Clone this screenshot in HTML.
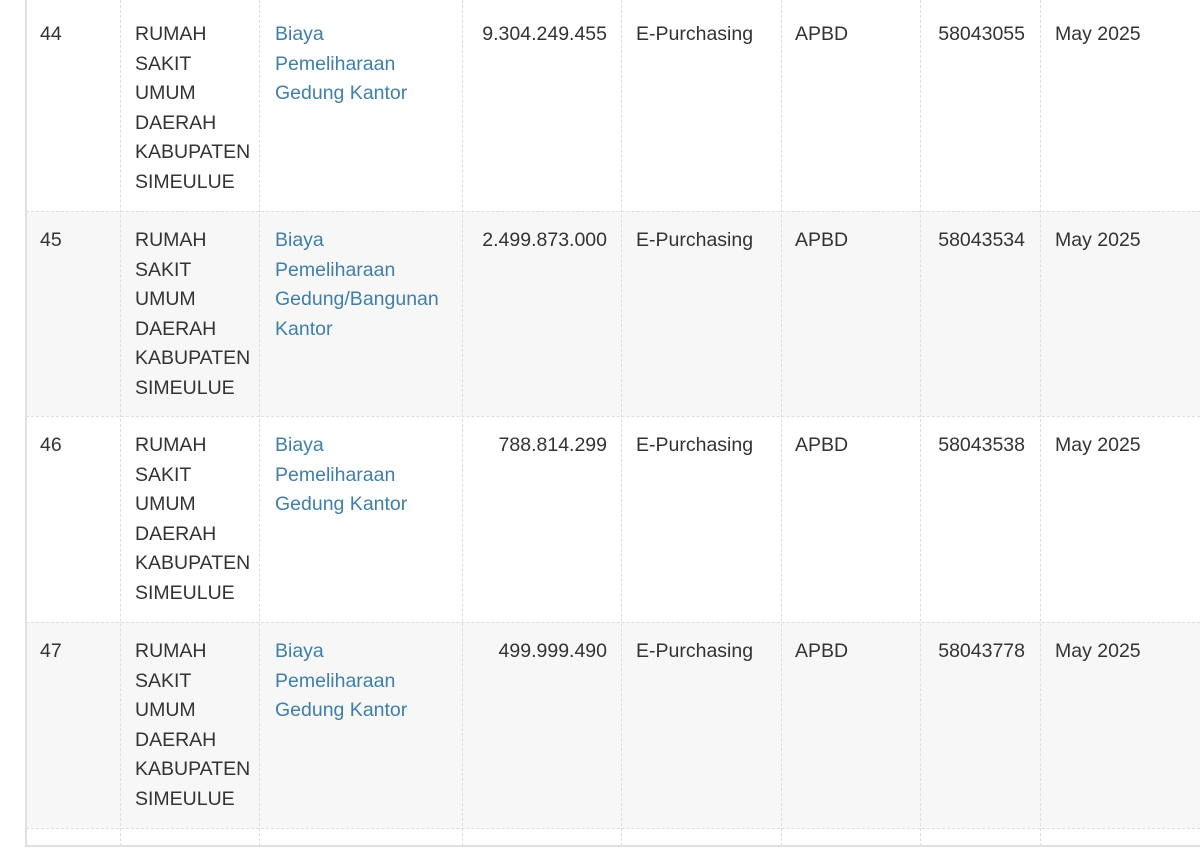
<!DOCTYPE html>
<html><head><meta charset="utf-8"><style>
body{margin:0;width:1200px;height:853px;overflow:hidden;background:#fff;font-family:"Liberation Sans",sans-serif;font-size:19.5px;color:#333;position:relative}
.row{position:absolute;left:26px;width:1174px}
.g{background:#f7f7f7}
.h{position:absolute;left:26px;width:1174px;border-top:1px dashed #ddd;height:0}
.v{position:absolute;top:0;height:846px;border-left:1px dashed #ddd;width:0}
.t{position:absolute;line-height:29.5px;white-space:nowrap}
.a{color:#3f7fa8}
.r{text-align:right}
</style></head><body>
<div class="row g" style="top:211px;height:205px"></div>
<div class="row g" style="top:622px;height:206px"></div>
<div class="h" style="top:211px"></div>
<div class="h" style="top:416px"></div>
<div class="h" style="top:622px"></div>
<div class="h" style="top:828px"></div>
<div style="position:absolute;left:25px;top:0;height:847px;border-left:2px solid #e0e0e0"></div>
<div style="position:absolute;left:25px;top:845px;width:1175px;border-top:2px solid #e0e0e0"></div>
<div class="v" style="left:120px"></div><div class="v" style="left:259px"></div><div class="v" style="left:462px"></div><div class="v" style="left:621px"></div><div class="v" style="left:781px"></div><div class="v" style="left:920px"></div><div class="v" style="left:1040px"></div>

<div class="t" style="left:40px;top:20px">44</div>
<div class="t" style="left:135px;top:20px">RUMAH<br>SAKIT<br>UMUM<br>DAERAH<br>KABUPATEN<br>SIMEULUE</div>
<div class="t a" style="left:275px;top:20px">Biaya<br>Pemeliharaan<br>Gedung Kantor</div>
<div class="t r" style="left:462px;width:145px;top:20px">9.304.249.455</div>
<div class="t" style="left:636px;top:20px">E-Purchasing</div>
<div class="t" style="left:795px;top:20px">APBD</div>
<div class="t r" style="left:920px;width:105px;top:20px">58043055</div>
<div class="t" style="left:1055px;top:20px">May 2025</div>

<div class="t" style="left:40px;top:226px">45</div>
<div class="t" style="left:135px;top:226px">RUMAH<br>SAKIT<br>UMUM<br>DAERAH<br>KABUPATEN<br>SIMEULUE</div>
<div class="t a" style="left:275px;top:226px">Biaya<br>Pemeliharaan<br>Gedung/Bangunan<br>Kantor</div>
<div class="t r" style="left:462px;width:145px;top:226px">2.499.873.000</div>
<div class="t" style="left:636px;top:226px">E-Purchasing</div>
<div class="t" style="left:795px;top:226px">APBD</div>
<div class="t r" style="left:920px;width:105px;top:226px">58043534</div>
<div class="t" style="left:1055px;top:226px">May 2025</div>

<div class="t" style="left:40px;top:431px">46</div>
<div class="t" style="left:135px;top:431px">RUMAH<br>SAKIT<br>UMUM<br>DAERAH<br>KABUPATEN<br>SIMEULUE</div>
<div class="t a" style="left:275px;top:431px">Biaya<br>Pemeliharaan<br>Gedung Kantor</div>
<div class="t r" style="left:462px;width:145px;top:431px">788.814.299</div>
<div class="t" style="left:636px;top:431px">E-Purchasing</div>
<div class="t" style="left:795px;top:431px">APBD</div>
<div class="t r" style="left:920px;width:105px;top:431px">58043538</div>
<div class="t" style="left:1055px;top:431px">May 2025</div>

<div class="t" style="left:40px;top:637px">47</div>
<div class="t" style="left:135px;top:637px">RUMAH<br>SAKIT<br>UMUM<br>DAERAH<br>KABUPATEN<br>SIMEULUE</div>
<div class="t a" style="left:275px;top:637px">Biaya<br>Pemeliharaan<br>Gedung Kantor</div>
<div class="t r" style="left:462px;width:145px;top:637px">499.999.490</div>
<div class="t" style="left:636px;top:637px">E-Purchasing</div>
<div class="t" style="left:795px;top:637px">APBD</div>
<div class="t r" style="left:920px;width:105px;top:637px">58043778</div>
<div class="t" style="left:1055px;top:637px">May 2025</div>
</body></html>
